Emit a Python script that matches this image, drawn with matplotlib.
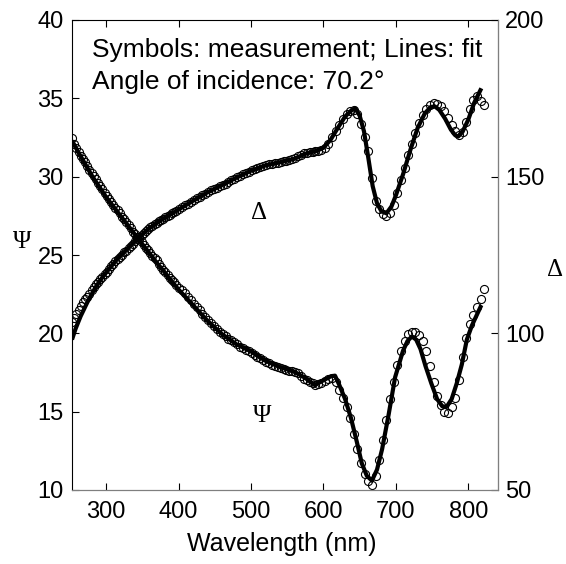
import matplotlib
matplotlib.use("Agg")
import matplotlib.pyplot as plt

# ---- measured data (symbols) ----
wl_meas = [253, 256, 259, 262, 265, 268, 271, 274, 277, 280, 283, 286, 289, 292, 295, 298,
           301, 304, 307, 310, 313, 316, 319, 322, 325, 328, 331, 334, 337, 340, 343, 346,
           349, 352, 355, 358, 361, 364, 367, 370, 373, 376, 379, 382, 385, 388, 391, 394, 397,
           401, 405, 409, 413, 417, 421, 425, 429, 433, 437, 441, 445, 449, 453, 457, 461,
           465, 469, 473, 477, 481, 485, 489, 493, 497, 501, 505, 509, 513, 517, 521, 525,
           529, 533, 537, 541, 545, 549, 553, 557, 561, 565, 569, 573, 577, 581, 585, 589,
           593, 597,
           602, 607, 612, 617, 622, 627, 632, 637, 642, 647, 652, 657, 662, 667, 672, 677,
           682, 687, 692, 697, 702, 707, 712, 717, 722, 727, 732, 737, 742, 747, 752, 757,
           762, 767, 772, 777, 782, 787, 792, 797, 802, 807, 812, 817, 821]

psi_meas = [32.5, 32.1, 31.8, 31.6, 31.35, 31.15, 30.95, 30.7, 30.45, 30.25, 30.05, 29.85,
            29.6, 29.4, 29.2, 28.95, 28.75, 28.55, 28.4, 28.2, 28.0, 27.85, 27.65, 27.45,
            27.3, 27.1, 26.9, 26.7, 26.5, 26.35, 26.15, 26.0, 25.8, 25.65, 25.45, 25.3,
            25.15, 24.95, 24.8, 24.65, 24.45, 24.25, 24.05, 23.9, 23.7, 23.55, 23.4, 23.25, 23.1,
            22.9, 22.75, 22.55, 22.35, 22.15, 21.9, 21.7, 21.5, 21.25, 21.05, 20.85, 20.65,
            20.45, 20.25, 20.1, 19.95, 19.8, 19.65, 19.55, 19.45, 19.3, 19.15, 19.05, 18.95,
            18.85, 18.75, 18.6, 18.5, 18.4, 18.3, 18.2, 18.1, 18.0, 17.9, 17.85, 17.8, 17.75,
            17.65, 17.6, 17.6, 17.55, 17.5, 17.3, 17.1, 17.0, 16.9, 16.8, 16.7, 16.75, 16.85,
            16.95, 17.1, 17.15, 16.9, 16.4, 15.9, 15.3, 14.6, 13.6, 12.6, 11.7, 11.0, 10.6,
            10.3, 10.9, 11.9, 13.2, 14.5, 15.8, 16.9, 18.0, 18.9, 19.5, 19.95, 20.1, 20.1,
            19.9, 19.5, 18.9, 17.9, 16.9, 16.0, 15.4, 15.0, 14.9, 15.3, 15.9, 17.0, 18.5,
            19.7, 20.6, 21.2, 21.7, 22.2, 22.8]

delta_meas = [103.7, 104.8, 106.2, 107.6, 108.8, 109.9, 110.8, 111.7, 112.6, 113.8, 114.9,
              115.7, 116.5, 117.2, 118.0, 118.8, 119.6, 120.5, 121.4, 122.2, 123.0, 123.8,
              124.5, 125.1, 125.8, 126.4, 127.1, 127.8, 128.6, 129.4, 130.1, 130.8, 131.4,
              132.1, 132.6, 133.2, 133.8, 134.3, 134.8, 135.3, 135.8, 136.2, 136.6, 137.0,
              137.4, 137.9, 138.3, 138.7, 139.1,
              139.6, 140.2, 140.8, 141.4, 142.0, 142.5, 143.1, 143.6, 144.1, 144.6, 145.1,
              145.6, 146.1, 146.5, 146.9, 147.4, 147.8, 148.3, 148.8, 149.3, 149.8, 150.3,
              150.7, 151.2, 151.6, 152.0, 152.4, 152.8, 153.1, 153.4, 153.7, 154.0, 154.2,
              154.4, 154.5, 154.7, 154.9, 155.1, 155.3, 155.6, 156.0, 156.5, 157.0, 157.4,
              157.6, 157.8, 157.9, 158.1, 158.3, 158.6,
              159.0, 160.5, 162.6, 164.6, 166.6, 168.4, 170.0, 170.9, 171.4, 170.1, 166.9,
              162.8, 158.2, 149.5, 142.2, 139.6, 138.0, 137.6, 138.3, 141.0, 144.8, 148.8,
              152.8, 156.9, 160.4, 164.0, 167.2, 169.6, 171.5, 172.9, 173.5, 173.2, 172.5,
              171.0, 168.6, 166.6, 164.6, 163.2, 164.4, 167.6, 171.5, 174.4, 175.6, 174.3, 173.0]

# ---- fitted curves (lines) ----
wl_fit_psi = [253, 260, 270, 280, 290, 300, 310, 320, 330, 340, 350, 360, 370, 380, 390, 400,
              420, 440, 460, 480, 500, 520, 540, 560, 575, 588, 600, 610, 616, 622, 630, 638,
              646, 653, 660, 667, 674, 681, 690, 699, 710, 716, 722, 728, 734, 741, 749, 757,
              764, 770, 777, 784, 791, 798, 805, 812, 818]
psi_fit = [32.3, 31.7, 30.9, 30.1, 29.4, 28.7, 28.1, 27.5, 26.9, 26.3, 25.7, 25.1, 24.5,
           23.95, 23.35, 22.8, 21.8, 20.8, 19.95, 19.3, 18.85, 18.25, 17.85, 17.55, 17.15,
           16.7, 17.0, 17.25, 17.3, 16.7, 15.8, 14.6, 13.1, 11.7, 10.9, 10.6, 11.3, 12.6,
           14.8, 17.2, 18.9, 19.5, 19.8, 19.6, 19.0, 17.9, 16.8, 15.8, 15.35, 15.3, 15.8,
           16.8, 18.0, 19.6, 20.5, 21.2, 21.8]

wl_fit_delta = [253, 258, 265, 275, 285, 295, 305, 315, 325, 335, 345, 360, 375, 390, 405,
                420, 440, 460, 480, 500, 520, 540, 560, 575, 590, 600, 610, 620, 630, 638,
                644, 650, 656, 662, 668, 674, 680, 687, 694, 700, 710, 720, 730, 740, 748,
                754, 760, 768, 776, 782, 786, 792, 800, 808, 818]
delta_fit = [98.0, 101.5, 105.5, 110.3, 114.5, 117.9, 120.8, 123.6, 125.9, 128.2, 130.6,
             133.6, 136.0, 138.1, 140.2, 142.3, 145.0, 147.3, 149.7, 151.9, 153.6, 154.6,
             155.7, 157.3, 158.2, 159.2, 161.8, 165.6, 169.2, 171.0, 171.8, 169.5, 164.5,
             156.0, 147.0, 141.5, 139.0, 138.3, 140.5, 144.0, 150.8, 158.5, 165.5, 170.2,
             172.2, 172.4, 171.3, 168.5, 165.0, 163.2, 162.8, 164.3, 168.2, 173.5, 178.2]

x_ticks = [300, 400, 500, 600, 700, 800]
psi_ticks = [10, 15, 20, 25, 30, 35, 40]
delta_ticks = [50, 100, 150, 200]

W, H = 566, 564
fig = plt.figure(figsize=(W / 100, H / 100), dpi=100)
ax = fig.add_axes([72 / W, 1 - 490 / H, 426 / W, 470 / H])
ax2 = ax.twinx()

sans = "Liberation Sans"
serif = "Liberation Serif"
fs_tick = 17
fs_note = 19
fs_label = 18
fs_greek = 18

mk = dict(linestyle="none", marker="o", markersize=5.8, markerfacecolor="none",
          markeredgecolor="black", markeredgewidth=0.8, zorder=3)

ax.plot(wl_fit_psi, psi_fit, color="black", lw=3.0, zorder=2, solid_capstyle="butt")
ax.plot(wl_meas, psi_meas, **mk)
ax2.plot(wl_fit_delta, delta_fit, color="black", lw=3.0, zorder=2, solid_capstyle="butt")
ax2.plot(wl_meas, delta_meas, **mk)

ax.set_xlim(253, 841)
ax.set_ylim(10, 40)
ax2.set_ylim(50, 200)

ax.set_xticks(x_ticks)
ax.set_yticks(psi_ticks)
ax2.set_yticks(delta_ticks)

for a in (ax, ax2):
    a.tick_params(direction="in", length=5, width=0.8, labelsize=fs_tick)
    for lab in a.get_xticklabels() + a.get_yticklabels():
        lab.set_fontfamily(sans)
ax.tick_params(axis="x", top=True, bottom=True, colors="black", pad=8)
ax.tick_params(axis="y", left=True, right=False, pad=6)
ax2.tick_params(axis="y", right=True, left=False, pad=5)

ax.spines["left"].set_color("black")
ax.spines["top"].set_color("black")
ax.spines["bottom"].set_color("#7f7f7f")
ax2.spines["right"].set_color("#7f7f7f")
ax2.spines["top"].set_visible(False)
ax2.spines["bottom"].set_color("#7f7f7f")
ax2.spines["left"].set_visible(False)

fig.text(282 / W, 1 - 551 / H, "Wavelength (nm)", fontsize=fs_label, fontfamily=sans,
         ha="center", va="baseline")

fig.text(22 / W, 1 - 242 / H, "Ψ", fontsize=fs_greek, fontfamily=serif,
         ha="center", va="center")
fig.text(555 / W, 1 - 270 / H, "Δ", fontsize=fs_greek, fontfamily=serif,
         ha="center", va="center")

ax.text(515, 14.7, "Ψ", fontsize=fs_greek, fontfamily=serif, ha="center", va="center")
ax.text(511, 27.7, "Δ", fontsize=fs_greek, fontfamily=serif, ha="center", va="center")

fig.text(92 / W, 1 - 57 / H, "Symbols: measurement; Lines: fit",
         fontsize=fs_note, fontfamily=sans, ha="left", va="baseline")
fig.text(92 / W, 1 - 89 / H, "Angle of incidence: 70.2°",
         fontsize=fs_note, fontfamily=sans, ha="left", va="baseline")

fig.savefig("out.png", dpi=100)
